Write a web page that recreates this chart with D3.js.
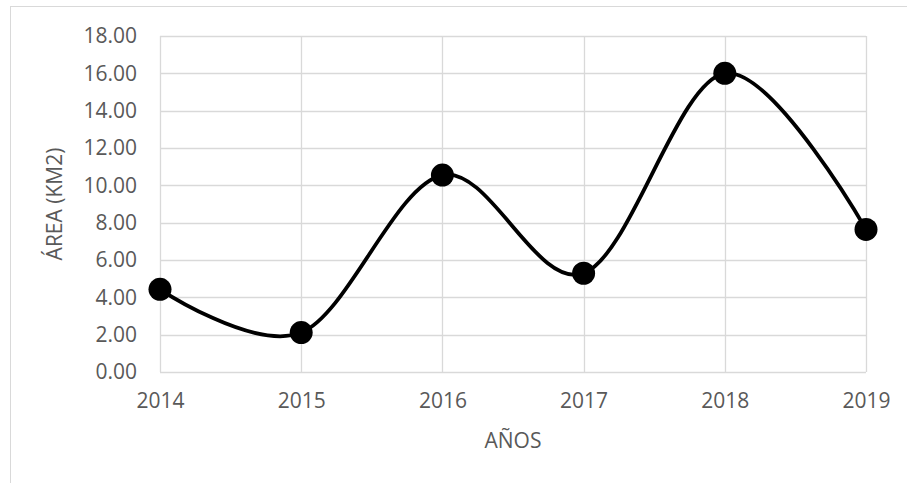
<!DOCTYPE html>
<html>
<head>
<meta charset="utf-8">
<script src="https://cdn.jsdelivr.net/npm/d3@7"></script>
<style>
html, body { margin: 0; padding: 0; background: #fff; }
svg { display: block; }
</style>
</head>
<body>
<svg id="chart" width="907" height="483"></svg>
<script>
const categories = ["2014", "2015", "2016", "2017", "2018", "2019"];
const values = [4.43, 2.11, 10.55, 5.29, 16.0, 7.64];
const yTicks = [0, 2, 4, 6, 8, 10, 12, 14, 16, 18];
const xTitle = "AÑOS";
const yTitle = "ÁREA (KM2)";

const svg = d3.select("#chart");
const W = 907, H = 483;
const margin = { left: 160, right: 41, top: 36, bottom: 111 };
const font = "'Open Sans', sans-serif";
const fs = "21px";
const textColor = "#595959";
const gridColor = "#d9d9d9";

svg.append("rect").attr("x", 10.5).attr("y", 6.5)
  .attr("width", W + 20).attr("height", H + 20)
  .attr("fill", "#fff").attr("stroke", gridColor).attr("stroke-width", 1);

const x = d3.scalePoint().domain(categories).range([margin.left, W - margin.right]);
const y = d3.scaleLinear().domain([0, 18]).range([H - margin.bottom, margin.top]);

// horizontal gridlines
svg.append("g").selectAll("line").data(yTicks).join("line")
  .attr("x1", margin.left).attr("x2", W - margin.right)
  .attr("y1", d => Math.round(y(d)) + 0.5).attr("y2", d => Math.round(y(d)) + 0.5)
  .attr("stroke", gridColor).attr("stroke-width", 1.3);

// vertical gridlines
svg.append("g").selectAll("line").data(categories).join("line")
  .attr("x1", d => Math.round(x(d)) + 0.5).attr("x2", d => Math.round(x(d)) + 0.5)
  .attr("y1", y(18)).attr("y2", y(0))
  .attr("stroke", gridColor).attr("stroke-width", 1.3);

// y axis labels
const yAxis = d3.axisLeft(y).tickValues(yTicks).tickFormat(d3.format(".2f")).tickSize(0).tickPadding(23);
const gy = svg.append("g").attr("transform", `translate(${margin.left},0)`).call(yAxis);
gy.select(".domain").remove();
gy.selectAll("text").attr("fill", textColor).style("font-family", font).style("font-size", fs);

// x axis labels
const xAxis = d3.axisBottom(x).tickSize(0).tickPadding(21);
const gx = svg.append("g").attr("transform", `translate(0,${H - margin.bottom})`).call(xAxis);
gx.select(".domain").remove();
gx.selectAll("text").attr("fill", textColor).style("font-family", font).style("font-size", fs);

// axis titles
svg.append("text").attr("x", 513).attr("y", 448).attr("text-anchor", "middle")
  .attr("fill", textColor).style("font-family", font).style("font-size", fs).text(xTitle);
svg.append("text").attr("transform", "translate(62,204) rotate(-90)").attr("text-anchor", "middle")
  .attr("fill", textColor).style("font-family", font).style("font-size", fs).text(yTitle);

// line
const data = categories.map((c, i) => ({ c, v: values[i] }));
const line = d3.line().x(d => x(d.c)).y(d => y(d.v)).curve(d3.curveCardinal.tension(0));
svg.append("path").datum(data).attr("d", line)
  .attr("fill", "none").attr("stroke", "#000").attr("stroke-width", 3.8).attr("stroke-linejoin", "round");

// markers
svg.append("g").selectAll("circle").data(data).join("circle")
  .attr("cx", d => x(d.c)).attr("cy", d => y(d.v)).attr("r", 11.5).attr("fill", "#000");
</script>
</body>
</html>
